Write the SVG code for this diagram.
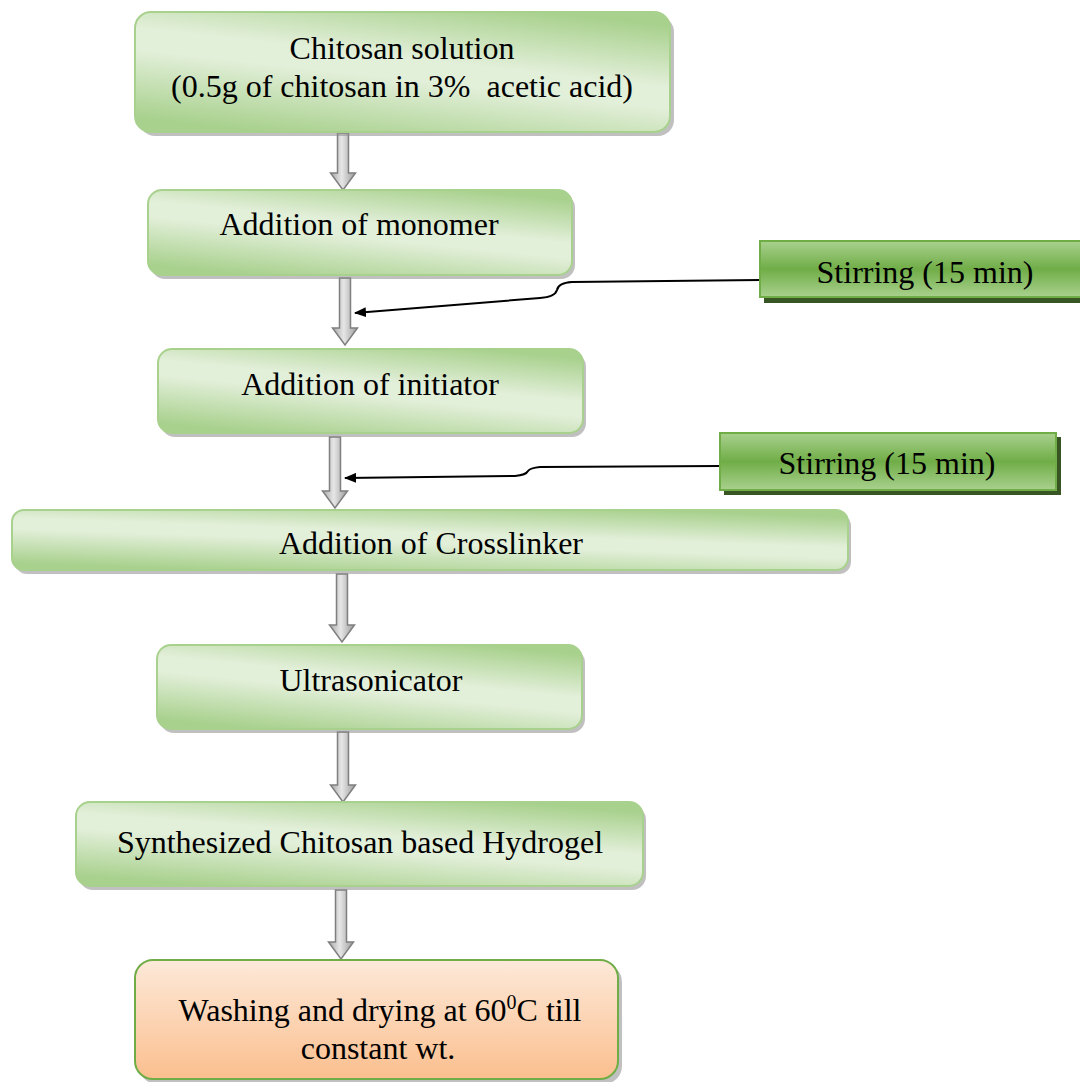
<svg xmlns="http://www.w3.org/2000/svg" width="1080" height="1082" viewBox="0 0 1080 1082">
<defs>
<linearGradient id="gGreen" x1="0.25" y1="1" x2="0.75" y2="0">
<stop offset="0" stop-color="#a9d18e"/>
<stop offset="0.45" stop-color="#e2efd9"/>
<stop offset="0.6" stop-color="#e2efd9"/>
<stop offset="1" stop-color="#a9d18e"/>
</linearGradient>
<linearGradient id="gStir" x1="0" y1="0" x2="0" y2="1">
<stop offset="0" stop-color="#a9d18e"/>
<stop offset="0.5" stop-color="#70ad47"/>
<stop offset="1" stop-color="#a9d18e"/>
</linearGradient>
<linearGradient id="gPeach" x1="0" y1="0" x2="0" y2="1">
<stop offset="0" stop-color="#fde9d9"/>
<stop offset="1" stop-color="#fbbf8e"/>
</linearGradient>
<linearGradient id="gArrow" x1="0" y1="0" x2="1" y2="0">
<stop offset="0" stop-color="#a6a6a6"/>
<stop offset="0.45" stop-color="#e6e6e6"/>
<stop offset="1" stop-color="#9a9a9a"/>
</linearGradient>
<marker id="blackHead" viewBox="0 0 12 10" refX="11" refY="5" markerWidth="12" markerHeight="10" markerUnits="userSpaceOnUse" orient="auto">
<path d="M0,0 L12,5 L0,10 Z" fill="#000"/>
</marker>
</defs>
<style>
.box{fill:url(#gGreen);stroke:#a9d18e;stroke-width:2}
.shadow{fill:#8c8c8c;opacity:0.55}
.stir{fill:url(#gStir);stroke:#70ad47;stroke-width:2}
.stirShadow{fill:#375623}
.peach{fill:url(#gPeach);stroke:#70ad47;stroke-width:2}
.t{font-family:"Liberation Serif","Times New Roman",serif;font-size:32px;fill:#000;text-anchor:middle}
.garr{fill:url(#gArrow);stroke:#7f7f7f;stroke-width:1.5}
.conn{fill:none;stroke:#000;stroke-width:2}
</style>
<rect width="1080" height="1082" fill="#fff"/>

<g id="connectors">
<g class="grey-arrows">
<path class="garr" d="M337.5,133 L348.5,133 L348.5,173 L355.5,173 L343,190 L330.5,173 L337.5,173 Z"/>
<path class="garr" d="M339.5,278 L350.5,278 L350.5,328 L357.5,328 L345,345 L332.5,328 L339.5,328 Z"/>
<path class="garr" d="M329.5,437 L340.5,437 L340.5,491 L347.5,491 L335,508 L322.5,491 L329.5,491 Z"/>
<path class="garr" d="M336.5,574 L347.5,574 L347.5,625 L354.5,625 L342,642 L329.5,625 L336.5,625 Z"/>
<path class="garr" d="M337.5,732 L348.5,732 L348.5,785 L355.5,785 L343,802 L330.5,785 L337.5,785 Z"/>
<path class="garr" d="M335.5,890 L346.5,890 L346.5,942 L353.5,942 L341,959 L328.5,942 L335.5,942 Z"/>
</g>
<path class="conn" d="M760,280 L572,282 Q558,283 557,290 Q555,297 540,298 L355,313" marker-end="url(#blackHead)"/>
<path class="conn" d="M720,466 L540,467 Q530,468 528,471 Q526,475 515,476 L345,478" marker-end="url(#blackHead)"/>
</g>

<g id="node1">
<rect class="shadow" x="139" y="16" width="535" height="120" rx="16"/>
<rect class="box" x="135" y="12" width="535" height="120" rx="16"/>
<text class="t" x="402" y="59">Chitosan solution</text>
<text class="t" x="402" y="97" xml:space="preserve">(0.5g of chitosan in 3%  acetic acid)</text>
</g>

<g id="node2">
<rect class="shadow" x="151" y="194" width="424" height="85" rx="14"/>
<rect class="box" x="148" y="190" width="424" height="85" rx="14"/>
<text class="t" x="359" y="235">Addition of monomer</text>
</g>

<g id="stir1">
<rect class="stirShadow" x="764" y="245" width="316" height="58"/>
<rect class="stir" x="760" y="241" width="322" height="56"/>
<text class="t" x="925" y="283">Stirring (15 min)</text>
</g>

<g id="node3">
<rect class="shadow" x="161" y="353" width="425" height="84" rx="14"/>
<rect class="box" x="158" y="349" width="425" height="84" rx="14"/>
<text class="t" x="370" y="395">Addition of initiator</text>
</g>

<g id="stir2">
<rect class="stirShadow" x="724" y="437" width="337" height="58"/>
<rect class="stir" x="720" y="433" width="336" height="57"/>
<text class="t" x="887" y="474">Stirring (15 min)</text>
</g>

<g id="node4">
<rect class="shadow" x="15" y="514" width="836" height="60" rx="12"/>
<rect class="box" x="12" y="510" width="836" height="60" rx="12"/>
<text class="t" x="431" y="554">Addition of Crosslinker</text>
</g>

<g id="node5">
<rect class="shadow" x="160" y="649" width="425" height="84" rx="14"/>
<rect class="box" x="157" y="645" width="425" height="84" rx="14"/>
<text class="t" x="371" y="691">Ultrasonicator</text>
</g>

<g id="node6">
<rect class="shadow" x="79" y="806" width="567" height="84" rx="14"/>
<rect class="box" x="76" y="802" width="567" height="84" rx="14"/>
<text class="t" x="360" y="853">Synthesized Chitosan based Hydrogel</text>
</g>

<g id="node7">
<rect class="shadow" x="139" y="964" width="483" height="120" rx="18"/>
<rect class="peach" x="135" y="960" width="483" height="119" rx="18"/>
<text class="t" x="380" y="1021">Washing and drying at 60<tspan font-size="20" dy="-12">0</tspan><tspan dy="12">C till</tspan></text>
<text class="t" x="378" y="1059">constant wt.</text>
</g>
</svg>
